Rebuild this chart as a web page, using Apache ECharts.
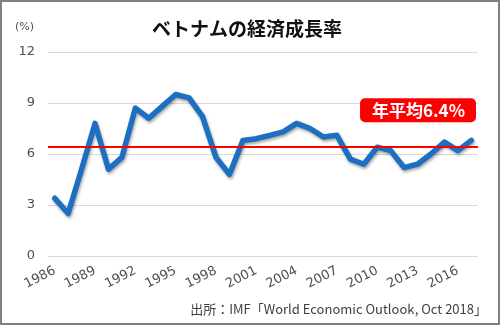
<!DOCTYPE html>
<html><head><meta charset="utf-8">
<script src="https://cdn.jsdelivr.net/npm/echarts@6/dist/echarts.min.js"></script>
<style>html,body{margin:0;padding:0;background:#fff}#c{width:500px;height:325px}</style>
</head><body><div id="c"></div>
<script>
const years = ['1986','1987','1988','1989','1990','1991','1992','1993','1994','1995','1996','1997','1998','1999','2000','2001','2002','2003','2004','2005','2006','2007','2008','2009','2010','2011','2012','2013','2014','2015','2016','2017'];
const growth = [3.4,2.5,5.1,7.8,5.1,5.8,8.7,8.1,8.8,9.5,9.3,8.2,5.8,4.8,6.8,6.9,7.1,7.3,7.8,7.5,7.0,7.1,5.7,5.4,6.4,6.2,5.2,5.4,6.0,6.7,6.2,6.8];
const average = 6.4;
const yTicks = [0,3,6,9,12];
const titleText = 'ベトナムの経済成長率';
const unitText = '(%)';
const sourceText = '出所：IMF「World Economic Outlook, Oct 2018」';

const chart = echarts.init(document.getElementById('c'), null, {renderer:'canvas'});
const font = '"DejaVu Sans", Verdana, sans-serif';
chart.setOption({
  animation:false,
  backgroundColor:'#fff',
  title:{text:titleText,left:242,top:14,textAlign:'center',
    textStyle:{fontFamily:'"Noto Sans CJK JP", sans-serif',fontWeight:'bold',fontSize:19,color:'#111'}},
  grid:{left:48,right:22,top:52,bottom:69},
  xAxis:{type:'category',data:years,boundaryGap:true,
    axisLine:{show:false},axisTick:{show:false},
    axisLabel:{interval:2,rotate:27,margin:14,fontFamily:font,fontSize:13,color:'#505050'}},
  yAxis:{type:'value',min:yTicks[0],max:yTicks[yTicks.length-1],interval:3,
    axisLine:{show:false},axisTick:{show:false},
    axisLabel:{margin:13,fontFamily:font,fontSize:13,color:'#505050'},
    splitLine:{lineStyle:{color:'#d9d9d9',width:1}}},
  series:[{type:'line',data:growth,symbol:'none',
    lineStyle:{color:'#1c6fc1',width:5.5,join:'round',cap:'round',
      shadowColor:'rgba(0,0,0,0.35)',shadowBlur:3,shadowOffsetX:1,shadowOffsetY:2},
    markLine:{silent:true,symbol:'none',
      data:[{yAxis:average}],
      lineStyle:{color:'#ff0000',width:2,type:'solid'},
      label:{position:'insideEndTop',distance:[2,25],formatter:'年平均'+average+'%',
        backgroundColor:'#ff0000',borderRadius:5,padding:[4,11,3,12],
        color:'#fff',fontWeight:'bold',fontSize:17,fontFamily:'"Noto Sans CJK JP", sans-serif'}}
  }],
  graphic:[
    {type:'rect',shape:{x:1,y:1,width:498,height:323},style:{fill:'none',stroke:'#7f7f7f',lineWidth:2},silent:true},
    {type:'text',left:15,top:22,style:{text:unitText,fontFamily:font,fontSize:11,fill:'#505050'}},
    {type:'text',right:13,top:303,style:{text:sourceText,fontFamily:'"Noto Sans CJK JP", sans-serif',fontSize:13,fill:'#404040'}}
  ]
});
</script></body></html>
